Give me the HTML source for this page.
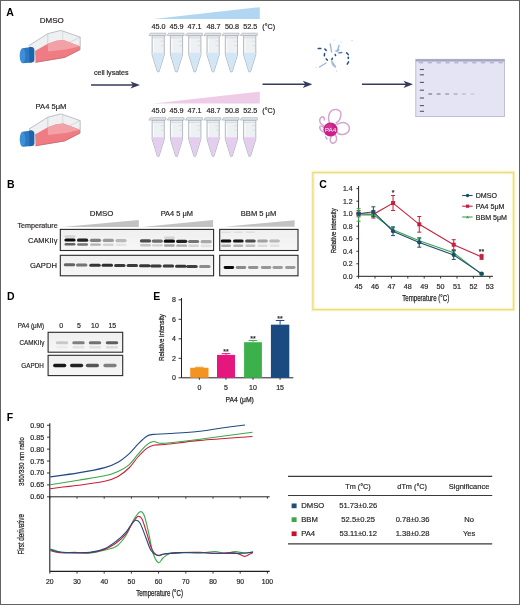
<!DOCTYPE html>
<html><head><meta charset="utf-8"><style>
html,body{margin:0;padding:0;background:#fff;}
body{width:520px;height:605px;overflow:hidden;position:relative;}
svg{position:absolute;left:0;top:0;font-family:"Liberation Sans", sans-serif;will-change:transform;}
.frame{position:absolute;left:0;top:0;width:518px;height:603px;border:1px solid #626266;}
</style></head><body>
<svg width="520" height="605" viewBox="0 0 520 605">
<g transform="translate(0,0)">
<polygon points="29.00,45.50 47.80,33.70 60.80,30.40 80.20,37.10 80.20,49.50 64.70,57.40 35.50,62.30 33.50,50.00" fill="#eef0f2" stroke="#a4a8ae" stroke-width="0.7"/>
<polygon points="35.00,51.00 47.80,43.80 56.40,40.80 63.40,39.90 80.00,46.30 80.00,49.60 64.70,57.40 35.50,62.30" fill="#ef7b83" stroke="none" stroke-width="1"/>
<polygon points="47.80,43.80 56.40,40.80 63.40,39.90 80.00,46.30 66.00,49.50 48.00,51.50" fill="#f3a1a6" stroke="none" stroke-width="1"/>
<line x1="47.8" y1="33.7" x2="47.8" y2="44.5" stroke="#b8bcc2" stroke-width="0.6"/>
<line x1="62.7" y1="31" x2="62.7" y2="40.5" stroke="#c4c8cc" stroke-width="0.5"/>
<line x1="80.2" y1="37.1" x2="66" y2="44" stroke="#b8bcc2" stroke-width="0.5"/>
<line x1="64.7" y1="57.4" x2="80.2" y2="49.5" stroke="#d45a66" stroke-width="0.7"/>
<line x1="35.5" y1="62.3" x2="64.7" y2="57.4" stroke="#d45a66" stroke-width="0.7"/>
<polygon points="31.50,47.00 35.00,49.50 35.50,62.30 33.00,62.50" fill="#dfe3e8" stroke="none" stroke-width="1"/>
<path d="M22.5,48.2 L31,46.9 Q34.2,47.2 34.2,50 L34.2,60 Q34.2,62.3 31.5,62.6 L23,63.3 Z" fill="#2a78c2"/>
<path d="M29,47.3 L31,46.9 Q34.2,47.2 34.2,50 L34.2,60 Q34.2,62.3 31.5,62.6 L29.5,62.8 Z" fill="#1f64aa"/>
<ellipse cx="22.6" cy="55.7" rx="2.9" ry="7.5" fill="#3d8fd6"/>
</g>
<g transform="translate(0,83.5)">
<polygon points="29.00,45.50 47.80,33.70 60.80,30.40 80.20,37.10 80.20,49.50 64.70,57.40 35.50,62.30 33.50,50.00" fill="#eef0f2" stroke="#a4a8ae" stroke-width="0.7"/>
<polygon points="35.00,51.00 47.80,43.80 56.40,40.80 63.40,39.90 80.00,46.30 80.00,49.60 64.70,57.40 35.50,62.30" fill="#ef7b83" stroke="none" stroke-width="1"/>
<polygon points="47.80,43.80 56.40,40.80 63.40,39.90 80.00,46.30 66.00,49.50 48.00,51.50" fill="#f3a1a6" stroke="none" stroke-width="1"/>
<line x1="47.8" y1="33.7" x2="47.8" y2="44.5" stroke="#b8bcc2" stroke-width="0.6"/>
<line x1="62.7" y1="31" x2="62.7" y2="40.5" stroke="#c4c8cc" stroke-width="0.5"/>
<line x1="80.2" y1="37.1" x2="66" y2="44" stroke="#b8bcc2" stroke-width="0.5"/>
<line x1="64.7" y1="57.4" x2="80.2" y2="49.5" stroke="#d45a66" stroke-width="0.7"/>
<line x1="35.5" y1="62.3" x2="64.7" y2="57.4" stroke="#d45a66" stroke-width="0.7"/>
<polygon points="31.50,47.00 35.00,49.50 35.50,62.30 33.00,62.50" fill="#dfe3e8" stroke="none" stroke-width="1"/>
<path d="M22.5,48.2 L31,46.9 Q34.2,47.2 34.2,50 L34.2,60 Q34.2,62.3 31.5,62.6 L23,63.3 Z" fill="#2a78c2"/>
<path d="M29,47.3 L31,46.9 Q34.2,47.2 34.2,50 L34.2,60 Q34.2,62.3 31.5,62.6 L29.5,62.8 Z" fill="#1f64aa"/>
<ellipse cx="22.6" cy="55.7" rx="2.9" ry="7.5" fill="#3d8fd6"/>
</g>
<text x="6.3" y="16.1" font-size="10.5" text-anchor="start" font-weight="bold" fill="#000">A</text>
<text x="39.8" y="23" font-size="8" text-anchor="start" fill="#231f20" stroke="#231f20" stroke-width="0.18">DMSO</text>
<text x="35.6" y="108.8" font-size="8" text-anchor="start" fill="#231f20" stroke="#231f20" stroke-width="0.18" textLength="30.8" lengthAdjust="spacingAndGlyphs">PA4 5μM</text>
<text x="93.9" y="74.8" font-size="7.1" text-anchor="start" fill="#231f20" stroke="#231f20" stroke-width="0.18">cell lysates</text>
<line x1="91" y1="85" x2="136" y2="85" stroke="#343a5c" stroke-width="1.6"/>
<path d="M140,85 L130.5,81.4 L133,85 L130.5,88.6 Z" fill="#343a5c"/>
<line x1="262.5" y1="84.3" x2="308.3" y2="84.3" stroke="#343a5c" stroke-width="1.6"/>
<path d="M312.3,84.3 L302.8,80.7 L305.3,84.3 L302.8,87.89999999999999 Z" fill="#343a5c"/>
<line x1="362" y1="84.3" x2="409" y2="84.3" stroke="#343a5c" stroke-width="1.6"/>
<path d="M413,84.3 L403.5,80.7 L406,84.3 L403.5,87.89999999999999 Z" fill="#343a5c"/>
<polygon points="153.30,19.00 259.80,19.00 259.80,7.20" fill="#b0d6f1" stroke="none" stroke-width="1"/>
<polygon points="153.30,103.50 259.80,103.50 259.80,91.70" fill="#eecbe6" stroke="none" stroke-width="1"/>
<text x="158.5" y="28.6" font-size="7.2" text-anchor="middle" fill="#231f20" stroke="#231f20" stroke-width="0.18">45.0</text>
<text x="176.6" y="28.6" font-size="7.2" text-anchor="middle" fill="#231f20" stroke="#231f20" stroke-width="0.18">45.9</text>
<text x="194.6" y="28.6" font-size="7.2" text-anchor="middle" fill="#231f20" stroke="#231f20" stroke-width="0.18">47.1</text>
<text x="213.6" y="28.6" font-size="7.2" text-anchor="middle" fill="#231f20" stroke="#231f20" stroke-width="0.18">48.7</text>
<text x="231.9" y="28.6" font-size="7.2" text-anchor="middle" fill="#231f20" stroke="#231f20" stroke-width="0.18">50.8</text>
<text x="250.3" y="28.6" font-size="7.2" text-anchor="middle" fill="#231f20" stroke="#231f20" stroke-width="0.18">52.5</text>
<text x="262.3" y="28.6" font-size="7.2" text-anchor="start" fill="#231f20" stroke="#231f20" stroke-width="0.18">(°C)</text>
<text x="158.5" y="113.1" font-size="7.2" text-anchor="middle" fill="#231f20" stroke="#231f20" stroke-width="0.18">45.0</text>
<text x="176.6" y="113.1" font-size="7.2" text-anchor="middle" fill="#231f20" stroke="#231f20" stroke-width="0.18">45.9</text>
<text x="194.6" y="113.1" font-size="7.2" text-anchor="middle" fill="#231f20" stroke="#231f20" stroke-width="0.18">47.1</text>
<text x="213.6" y="113.1" font-size="7.2" text-anchor="middle" fill="#231f20" stroke="#231f20" stroke-width="0.18">48.7</text>
<text x="231.9" y="113.1" font-size="7.2" text-anchor="middle" fill="#231f20" stroke="#231f20" stroke-width="0.18">50.8</text>
<text x="250.3" y="113.1" font-size="7.2" text-anchor="middle" fill="#231f20" stroke="#231f20" stroke-width="0.18">52.5</text>
<text x="262.3" y="113.1" font-size="7.2" text-anchor="start" fill="#231f20" stroke="#231f20" stroke-width="0.18">(°C)</text>
<path d="M152.1,35.6 L164.29999999999998,35.6 L164.29999999999998,54.7 L159.0,71.80000000000001 L157.39999999999998,71.80000000000001 L152.1,54.7 Z" fill="#eef1f4" stroke="#a2a9b1" stroke-width="0.8"/>
<path d="M152.5,52.800000000000004 L163.89999999999998,52.800000000000004 L163.89999999999998,54.800000000000004 L158.79999999999998,71.2 L157.6,71.2 L152.5,54.800000000000004 Z" fill="#d3e6f5"/>
<path d="M148.89999999999998,35.6 L150.39999999999998,33.2 L165.79999999999998,33.2 L165.79999999999998,35.6 Z" fill="#e2e5e9" stroke="#a0a6ae" stroke-width="0.6"/>
<line x1="152.1" y1="37.800000000000004" x2="164.29999999999998" y2="37.800000000000004" stroke="#c5cad0" stroke-width="0.6"/>
<line x1="160.39999999999998" y1="41.2" x2="163.6" y2="41.2" stroke="#c3c8ce" stroke-width="0.5"/>
<line x1="161.0" y1="45.7" x2="163.6" y2="45.7" stroke="#c3c8ce" stroke-width="0.5"/>
<line x1="153.6" y1="38.7" x2="153.6" y2="52.2" stroke="#fafbfc" stroke-width="1"/>
<path d="M152.1,120.10000000000001 L164.29999999999998,120.10000000000001 L164.29999999999998,139.2 L159.0,156.3 L157.39999999999998,156.3 L152.1,139.2 Z" fill="#eef1f4" stroke="#a2a9b1" stroke-width="0.8"/>
<path d="M152.5,137.3 L163.89999999999998,137.3 L163.89999999999998,139.3 L158.79999999999998,155.7 L157.6,155.7 L152.5,139.3 Z" fill="#e5cdee"/>
<path d="M148.89999999999998,120.10000000000001 L150.39999999999998,117.7 L165.79999999999998,117.7 L165.79999999999998,120.10000000000001 Z" fill="#e2e5e9" stroke="#a0a6ae" stroke-width="0.6"/>
<line x1="152.1" y1="122.3" x2="164.29999999999998" y2="122.3" stroke="#c5cad0" stroke-width="0.6"/>
<line x1="160.39999999999998" y1="125.7" x2="163.6" y2="125.7" stroke="#c3c8ce" stroke-width="0.5"/>
<line x1="161.0" y1="130.2" x2="163.6" y2="130.2" stroke="#c3c8ce" stroke-width="0.5"/>
<line x1="153.6" y1="123.2" x2="153.6" y2="136.7" stroke="#fafbfc" stroke-width="1"/>
<path d="M170.4,35.6 L182.6,35.6 L182.6,54.7 L177.3,71.80000000000001 L175.7,71.80000000000001 L170.4,54.7 Z" fill="#eef1f4" stroke="#a2a9b1" stroke-width="0.8"/>
<path d="M170.8,52.800000000000004 L182.2,52.800000000000004 L182.2,54.800000000000004 L177.1,71.2 L175.9,71.2 L170.8,54.800000000000004 Z" fill="#d3e6f5"/>
<path d="M167.2,35.6 L168.7,33.2 L184.1,33.2 L184.1,35.6 Z" fill="#e2e5e9" stroke="#a0a6ae" stroke-width="0.6"/>
<line x1="170.4" y1="37.800000000000004" x2="182.6" y2="37.800000000000004" stroke="#c5cad0" stroke-width="0.6"/>
<line x1="178.7" y1="41.2" x2="181.9" y2="41.2" stroke="#c3c8ce" stroke-width="0.5"/>
<line x1="179.3" y1="45.7" x2="181.9" y2="45.7" stroke="#c3c8ce" stroke-width="0.5"/>
<line x1="171.9" y1="38.7" x2="171.9" y2="52.2" stroke="#fafbfc" stroke-width="1"/>
<path d="M170.4,120.10000000000001 L182.6,120.10000000000001 L182.6,139.2 L177.3,156.3 L175.7,156.3 L170.4,139.2 Z" fill="#eef1f4" stroke="#a2a9b1" stroke-width="0.8"/>
<path d="M170.8,137.3 L182.2,137.3 L182.2,139.3 L177.1,155.7 L175.9,155.7 L170.8,139.3 Z" fill="#e5cdee"/>
<path d="M167.2,120.10000000000001 L168.7,117.7 L184.1,117.7 L184.1,120.10000000000001 Z" fill="#e2e5e9" stroke="#a0a6ae" stroke-width="0.6"/>
<line x1="170.4" y1="122.3" x2="182.6" y2="122.3" stroke="#c5cad0" stroke-width="0.6"/>
<line x1="178.7" y1="125.7" x2="181.9" y2="125.7" stroke="#c3c8ce" stroke-width="0.5"/>
<line x1="179.3" y1="130.2" x2="181.9" y2="130.2" stroke="#c3c8ce" stroke-width="0.5"/>
<line x1="171.9" y1="123.2" x2="171.9" y2="136.7" stroke="#fafbfc" stroke-width="1"/>
<path d="M188.70000000000002,35.6 L200.9,35.6 L200.9,54.7 L195.60000000000002,71.80000000000001 L194.0,71.80000000000001 L188.70000000000002,54.7 Z" fill="#eef1f4" stroke="#a2a9b1" stroke-width="0.8"/>
<path d="M189.10000000000002,52.800000000000004 L200.5,52.800000000000004 L200.5,54.800000000000004 L195.4,71.2 L194.20000000000002,71.2 L189.10000000000002,54.800000000000004 Z" fill="#d3e6f5"/>
<path d="M185.5,35.6 L187.0,33.2 L202.4,33.2 L202.4,35.6 Z" fill="#e2e5e9" stroke="#a0a6ae" stroke-width="0.6"/>
<line x1="188.70000000000002" y1="37.800000000000004" x2="200.9" y2="37.800000000000004" stroke="#c5cad0" stroke-width="0.6"/>
<line x1="197.0" y1="41.2" x2="200.20000000000002" y2="41.2" stroke="#c3c8ce" stroke-width="0.5"/>
<line x1="197.60000000000002" y1="45.7" x2="200.20000000000002" y2="45.7" stroke="#c3c8ce" stroke-width="0.5"/>
<line x1="190.20000000000002" y1="38.7" x2="190.20000000000002" y2="52.2" stroke="#fafbfc" stroke-width="1"/>
<path d="M188.70000000000002,120.10000000000001 L200.9,120.10000000000001 L200.9,139.2 L195.60000000000002,156.3 L194.0,156.3 L188.70000000000002,139.2 Z" fill="#eef1f4" stroke="#a2a9b1" stroke-width="0.8"/>
<path d="M189.10000000000002,137.3 L200.5,137.3 L200.5,139.3 L195.4,155.7 L194.20000000000002,155.7 L189.10000000000002,139.3 Z" fill="#e5cdee"/>
<path d="M185.5,120.10000000000001 L187.0,117.7 L202.4,117.7 L202.4,120.10000000000001 Z" fill="#e2e5e9" stroke="#a0a6ae" stroke-width="0.6"/>
<line x1="188.70000000000002" y1="122.3" x2="200.9" y2="122.3" stroke="#c5cad0" stroke-width="0.6"/>
<line x1="197.0" y1="125.7" x2="200.20000000000002" y2="125.7" stroke="#c3c8ce" stroke-width="0.5"/>
<line x1="197.60000000000002" y1="130.2" x2="200.20000000000002" y2="130.2" stroke="#c3c8ce" stroke-width="0.5"/>
<line x1="190.20000000000002" y1="123.2" x2="190.20000000000002" y2="136.7" stroke="#fafbfc" stroke-width="1"/>
<path d="M207.0,35.6 L219.2,35.6 L219.2,54.7 L213.9,71.80000000000001 L212.29999999999998,71.80000000000001 L207.0,54.7 Z" fill="#eef1f4" stroke="#a2a9b1" stroke-width="0.8"/>
<path d="M207.4,52.800000000000004 L218.79999999999998,52.800000000000004 L218.79999999999998,54.800000000000004 L213.7,71.2 L212.5,71.2 L207.4,54.800000000000004 Z" fill="#d3e6f5"/>
<path d="M203.79999999999998,35.6 L205.29999999999998,33.2 L220.7,33.2 L220.7,35.6 Z" fill="#e2e5e9" stroke="#a0a6ae" stroke-width="0.6"/>
<line x1="207.0" y1="37.800000000000004" x2="219.2" y2="37.800000000000004" stroke="#c5cad0" stroke-width="0.6"/>
<line x1="215.29999999999998" y1="41.2" x2="218.5" y2="41.2" stroke="#c3c8ce" stroke-width="0.5"/>
<line x1="215.9" y1="45.7" x2="218.5" y2="45.7" stroke="#c3c8ce" stroke-width="0.5"/>
<line x1="208.5" y1="38.7" x2="208.5" y2="52.2" stroke="#fafbfc" stroke-width="1"/>
<path d="M207.0,120.10000000000001 L219.2,120.10000000000001 L219.2,139.2 L213.9,156.3 L212.29999999999998,156.3 L207.0,139.2 Z" fill="#eef1f4" stroke="#a2a9b1" stroke-width="0.8"/>
<path d="M207.4,137.3 L218.79999999999998,137.3 L218.79999999999998,139.3 L213.7,155.7 L212.5,155.7 L207.4,139.3 Z" fill="#e5cdee"/>
<path d="M203.79999999999998,120.10000000000001 L205.29999999999998,117.7 L220.7,117.7 L220.7,120.10000000000001 Z" fill="#e2e5e9" stroke="#a0a6ae" stroke-width="0.6"/>
<line x1="207.0" y1="122.3" x2="219.2" y2="122.3" stroke="#c5cad0" stroke-width="0.6"/>
<line x1="215.29999999999998" y1="125.7" x2="218.5" y2="125.7" stroke="#c3c8ce" stroke-width="0.5"/>
<line x1="215.9" y1="130.2" x2="218.5" y2="130.2" stroke="#c3c8ce" stroke-width="0.5"/>
<line x1="208.5" y1="123.2" x2="208.5" y2="136.7" stroke="#fafbfc" stroke-width="1"/>
<path d="M225.3,35.6 L237.5,35.6 L237.5,54.7 L232.20000000000002,71.80000000000001 L230.6,71.80000000000001 L225.3,54.7 Z" fill="#eef1f4" stroke="#a2a9b1" stroke-width="0.8"/>
<path d="M225.70000000000002,52.800000000000004 L237.1,52.800000000000004 L237.1,54.800000000000004 L232.0,71.2 L230.8,71.2 L225.70000000000002,54.800000000000004 Z" fill="#d3e6f5"/>
<path d="M222.1,35.6 L223.6,33.2 L239.0,33.2 L239.0,35.6 Z" fill="#e2e5e9" stroke="#a0a6ae" stroke-width="0.6"/>
<line x1="225.3" y1="37.800000000000004" x2="237.5" y2="37.800000000000004" stroke="#c5cad0" stroke-width="0.6"/>
<line x1="233.6" y1="41.2" x2="236.8" y2="41.2" stroke="#c3c8ce" stroke-width="0.5"/>
<line x1="234.20000000000002" y1="45.7" x2="236.8" y2="45.7" stroke="#c3c8ce" stroke-width="0.5"/>
<line x1="226.8" y1="38.7" x2="226.8" y2="52.2" stroke="#fafbfc" stroke-width="1"/>
<path d="M225.3,120.10000000000001 L237.5,120.10000000000001 L237.5,139.2 L232.20000000000002,156.3 L230.6,156.3 L225.3,139.2 Z" fill="#eef1f4" stroke="#a2a9b1" stroke-width="0.8"/>
<path d="M225.70000000000002,137.3 L237.1,137.3 L237.1,139.3 L232.0,155.7 L230.8,155.7 L225.70000000000002,139.3 Z" fill="#e5cdee"/>
<path d="M222.1,120.10000000000001 L223.6,117.7 L239.0,117.7 L239.0,120.10000000000001 Z" fill="#e2e5e9" stroke="#a0a6ae" stroke-width="0.6"/>
<line x1="225.3" y1="122.3" x2="237.5" y2="122.3" stroke="#c5cad0" stroke-width="0.6"/>
<line x1="233.6" y1="125.7" x2="236.8" y2="125.7" stroke="#c3c8ce" stroke-width="0.5"/>
<line x1="234.20000000000002" y1="130.2" x2="236.8" y2="130.2" stroke="#c3c8ce" stroke-width="0.5"/>
<line x1="226.8" y1="123.2" x2="226.8" y2="136.7" stroke="#fafbfc" stroke-width="1"/>
<path d="M243.6,35.6 L255.79999999999998,35.6 L255.79999999999998,54.7 L250.5,71.80000000000001 L248.89999999999998,71.80000000000001 L243.6,54.7 Z" fill="#eef1f4" stroke="#a2a9b1" stroke-width="0.8"/>
<path d="M244.0,52.800000000000004 L255.39999999999998,52.800000000000004 L255.39999999999998,54.800000000000004 L250.29999999999998,71.2 L249.1,71.2 L244.0,54.800000000000004 Z" fill="#d3e6f5"/>
<path d="M240.39999999999998,35.6 L241.89999999999998,33.2 L257.3,33.2 L257.3,35.6 Z" fill="#e2e5e9" stroke="#a0a6ae" stroke-width="0.6"/>
<line x1="243.6" y1="37.800000000000004" x2="255.79999999999998" y2="37.800000000000004" stroke="#c5cad0" stroke-width="0.6"/>
<line x1="251.89999999999998" y1="41.2" x2="255.1" y2="41.2" stroke="#c3c8ce" stroke-width="0.5"/>
<line x1="252.5" y1="45.7" x2="255.1" y2="45.7" stroke="#c3c8ce" stroke-width="0.5"/>
<line x1="245.1" y1="38.7" x2="245.1" y2="52.2" stroke="#fafbfc" stroke-width="1"/>
<path d="M243.6,120.10000000000001 L255.79999999999998,120.10000000000001 L255.79999999999998,139.2 L250.5,156.3 L248.89999999999998,156.3 L243.6,139.2 Z" fill="#eef1f4" stroke="#a2a9b1" stroke-width="0.8"/>
<path d="M244.0,137.3 L255.39999999999998,137.3 L255.39999999999998,139.3 L250.29999999999998,155.7 L249.1,155.7 L244.0,139.3 Z" fill="#e5cdee"/>
<path d="M240.39999999999998,120.10000000000001 L241.89999999999998,117.7 L257.3,117.7 L257.3,120.10000000000001 Z" fill="#e2e5e9" stroke="#a0a6ae" stroke-width="0.6"/>
<line x1="243.6" y1="122.3" x2="255.79999999999998" y2="122.3" stroke="#c5cad0" stroke-width="0.6"/>
<line x1="251.89999999999998" y1="125.7" x2="255.1" y2="125.7" stroke="#c3c8ce" stroke-width="0.5"/>
<line x1="252.5" y1="130.2" x2="255.1" y2="130.2" stroke="#c3c8ce" stroke-width="0.5"/>
<line x1="245.1" y1="123.2" x2="245.1" y2="136.7" stroke="#fafbfc" stroke-width="1"/>
<line x1="318.2" y1="48.5" x2="320.8" y2="48.6" stroke="#2b4d80" stroke-width="1.5" stroke-linecap="round"/>
<line x1="324.8" y1="49" x2="326.2" y2="50.4" stroke="#2b4d80" stroke-width="1.5" stroke-linecap="round"/>
<line x1="324.6" y1="53.6" x2="324.3" y2="55.8" stroke="#2b4d80" stroke-width="1.5" stroke-linecap="round"/>
<line x1="326.2" y1="58.9" x2="327.3" y2="60.1" stroke="#2b4d80" stroke-width="1.5" stroke-linecap="round"/>
<line x1="332.4" y1="58.2" x2="331.8" y2="59.6" stroke="#2b4d80" stroke-width="1.5" stroke-linecap="round"/>
<line x1="335.2" y1="54.4" x2="335.6" y2="55.6" stroke="#2b4d80" stroke-width="1.5" stroke-linecap="round"/>
<line x1="346.6" y1="52.8" x2="348.2" y2="54.6" stroke="#2b4d80" stroke-width="1.5" stroke-linecap="round"/>
<line x1="348.3" y1="57.2" x2="348.3" y2="58.6" stroke="#2b4d80" stroke-width="1.5" stroke-linecap="round"/>
<line x1="348.6" y1="61.8" x2="347.2" y2="64.2" stroke="#2b4d80" stroke-width="1.5" stroke-linecap="round"/>
<line x1="330.2" y1="44" x2="331.6" y2="52" stroke="#9ab6d8" stroke-width="1.4" stroke-linecap="round"/>
<line x1="339" y1="45.5" x2="337.3" y2="51.5" stroke="#9ab6d8" stroke-width="1.4" stroke-linecap="round"/>
<line x1="319.5" y1="67" x2="326" y2="63" stroke="#9ab6d8" stroke-width="1.4" stroke-linecap="round"/>
<line x1="331.8" y1="61.5" x2="335.5" y2="67" stroke="#9ab6d8" stroke-width="1.4" stroke-linecap="round"/>
<line x1="336" y1="51" x2="339" y2="50" stroke="#9ab6d8" stroke-width="1.4" stroke-linecap="round"/>
<line x1="338.8" y1="52.9" x2="341.8" y2="52.5" stroke="#4f7fb6" stroke-width="1.4" stroke-linecap="round"/>
<path d="M331.8,62.5 Q332.5,66 335,66.8" fill="none" stroke="#a9bccf" stroke-width="1.2"/>
<circle cx="316" cy="67.5" r="0.6" fill="#b7c8dc"/>
<circle cx="336.5" cy="71" r="0.6" fill="#b7c8dc"/>
<circle cx="341" cy="42" r="0.6" fill="#b7c8dc"/>
<circle cx="352" cy="40.5" r="0.6" fill="#b7c8dc"/>
<circle cx="334" cy="40" r="0.6" fill="#b7c8dc"/>
<path d="M324.00,126.00 C323.40,125.50 321.10,124.08 320.40,123.00 C319.70,121.92 319.58,120.50 319.80,119.50 C320.02,118.50 321.00,117.32 321.70,117.00 C322.40,116.68 323.55,117.10 324.00,117.60 C324.45,118.10 324.33,119.60 324.40,120.00" fill="none" stroke="#d3a6cd" stroke-width="1.5" stroke-linecap="round"/>
<path d="M323.60,127.00 C323.05,126.83 320.83,125.58 320.30,126.00 C319.77,126.42 319.95,128.50 320.40,129.50 C320.85,130.50 322.57,131.58 323.00,132.00" fill="none" stroke="#d3a6cd" stroke-width="1.5" stroke-linecap="round"/>
<path d="M329.40,123.00 C329.27,122.22 328.60,119.85 328.60,118.30 C328.60,116.75 328.75,115.05 329.40,113.70 C330.05,112.35 331.35,110.90 332.50,110.20 C333.65,109.50 335.02,109.30 336.30,109.50 C337.58,109.70 339.43,110.45 340.20,111.40 C340.97,112.35 341.03,113.80 340.90,115.20 C340.77,116.60 340.17,118.52 339.40,119.80 C338.63,121.08 336.82,122.38 336.30,122.90" fill="none" stroke="#d3a6cd" stroke-width="1.5" stroke-linecap="round"/>
<path d="M337.00,124.30 C338.03,124.00 341.40,122.47 343.20,122.50 C345.00,122.53 346.77,123.53 347.80,124.50 C348.83,125.47 349.40,127.02 349.40,128.30 C349.40,129.58 348.83,131.17 347.80,132.20 C346.77,133.23 344.73,134.25 343.20,134.50 C341.67,134.75 339.70,134.22 338.60,133.70 C337.50,133.18 336.93,131.78 336.60,131.40" fill="none" stroke="#d3a6cd" stroke-width="1.5" stroke-linecap="round"/>
<path d="M331.70,136.00 C331.45,136.50 330.32,137.97 330.20,139.00 C330.08,140.03 330.37,141.53 331.00,142.20 C331.63,142.87 333.12,143.27 334.00,143.00 C334.88,142.73 335.92,141.63 336.30,140.60 C336.68,139.57 336.55,137.77 336.30,136.80 C336.05,135.83 335.05,135.13 334.80,134.80" fill="none" stroke="#d3a6cd" stroke-width="1.5" stroke-linecap="round"/>
<path d="M325.50,136.80 C325.75,137.17 326.75,138.63 327.00,139.00" fill="none" stroke="#d3a6cd" stroke-width="1.5" stroke-linecap="round"/>
<circle cx="330.5" cy="129.5" r="7.1" fill="#c92189"/>
<circle cx="329" cy="127.5" r="3.5" fill="#d8489e" opacity="0.5"/>
<text x="330.6" y="131.8" font-size="6.1" text-anchor="middle" fill="#fff" textLength="11.6" lengthAdjust="spacingAndGlyphs">PA4</text>
<rect x="415.8" y="59.3" width="88.59999999999997" height="57.3" fill="#e4e4f4" stroke="#b2b2cf" stroke-width="0.8"/>
<rect x="415.8" y="59.3" width="88.59999999999997" height="2.2" fill="#a3a3c2"/>
<path d="M418.40,61.5 L423.60,61.5 L422.80,63.599999999999994 L419.20,63.599999999999994 Z" fill="#b9b9d4"/>
<path d="M427.26,61.5 L432.46,61.5 L431.66,63.599999999999994 L428.06,63.599999999999994 Z" fill="#b9b9d4"/>
<path d="M436.12,61.5 L441.32,61.5 L440.52,63.599999999999994 L436.92,63.599999999999994 Z" fill="#b9b9d4"/>
<path d="M444.98,61.5 L450.18,61.5 L449.38,63.599999999999994 L445.78,63.599999999999994 Z" fill="#b9b9d4"/>
<path d="M453.84,61.5 L459.04,61.5 L458.24,63.599999999999994 L454.64,63.599999999999994 Z" fill="#b9b9d4"/>
<path d="M462.70,61.5 L467.90,61.5 L467.10,63.599999999999994 L463.50,63.599999999999994 Z" fill="#b9b9d4"/>
<path d="M471.56,61.5 L476.76,61.5 L475.96,63.599999999999994 L472.36,63.599999999999994 Z" fill="#b9b9d4"/>
<path d="M480.42,61.5 L485.62,61.5 L484.82,63.599999999999994 L481.22,63.599999999999994 Z" fill="#b9b9d4"/>
<path d="M489.28,61.5 L494.48,61.5 L493.68,63.599999999999994 L490.08,63.599999999999994 Z" fill="#b9b9d4"/>
<path d="M498.14,61.5 L503.34,61.5 L502.54,63.599999999999994 L498.94,63.599999999999994 Z" fill="#b9b9d4"/>
<line x1="419.8" y1="69.5" x2="424" y2="69.5" stroke="#55557a" stroke-width="1.1"/>
<line x1="419.8" y1="74.8" x2="424" y2="74.8" stroke="#55557a" stroke-width="1.1"/>
<line x1="419.8" y1="82.4" x2="424" y2="82.4" stroke="#55557a" stroke-width="1.1"/>
<line x1="419.8" y1="90.2" x2="424" y2="90.2" stroke="#55557a" stroke-width="1.1"/>
<line x1="419.8" y1="98" x2="424" y2="98" stroke="#55557a" stroke-width="1.1"/>
<line x1="419.8" y1="105.6" x2="424" y2="105.6" stroke="#55557a" stroke-width="1.1"/>
<line x1="419.8" y1="111.3" x2="424" y2="111.3" stroke="#55557a" stroke-width="1.1"/>
<line x1="428.3" y1="94" x2="432.1" y2="94" stroke="#6a6a8c" stroke-width="1.1"/>
<line x1="436.7" y1="94" x2="440.5" y2="94" stroke="#76769a" stroke-width="1.1"/>
<line x1="445.2" y1="94" x2="449.0" y2="94" stroke="#8484a6" stroke-width="1.1"/>
<line x1="453.7" y1="94" x2="457.5" y2="94" stroke="#9a9aba" stroke-width="1.1"/>
<line x1="462" y1="94" x2="465.8" y2="94" stroke="#b0b0cc" stroke-width="1.1"/>
<line x1="470.6" y1="94" x2="474.40000000000003" y2="94" stroke="#c4c4da" stroke-width="1.1"/>
<text x="7" y="187.5" font-size="10.5" text-anchor="start" font-weight="bold" fill="#000">B</text>
<text x="89.8" y="215.9" font-size="7.9" text-anchor="start" fill="#231f20" stroke="#231f20" stroke-width="0.18">DMSO</text>
<text x="160.7" y="216.4" font-size="7.6" text-anchor="start" fill="#231f20" stroke="#231f20" stroke-width="0.18" textLength="32.3" lengthAdjust="spacingAndGlyphs">PA4 5 μM</text>
<text x="240.8" y="215.8" font-size="7.6" text-anchor="start" fill="#231f20" stroke="#231f20" stroke-width="0.18" textLength="35.5" lengthAdjust="spacingAndGlyphs">BBM 5 μM</text>
<text x="17.4" y="228" font-size="7.9" text-anchor="start" fill="#231f20" stroke="#231f20" stroke-width="0.18" textLength="40.3" lengthAdjust="spacingAndGlyphs">Temperature</text>
<text x="28" y="242.9" font-size="7.8" text-anchor="start" fill="#231f20" stroke="#231f20" stroke-width="0.18" textLength="29.4" lengthAdjust="spacingAndGlyphs">CAMKIIγ</text>
<text x="29.9" y="267.9" font-size="7.8" text-anchor="start" fill="#231f20" stroke="#231f20" stroke-width="0.18" textLength="27" lengthAdjust="spacingAndGlyphs">GAPDH</text>
<polygon points="62.50,227.00 138.80,227.00 138.80,220.10" fill="#c2c2c2" stroke="none" stroke-width="1"/>
<polygon points="142.00,227.00 213.10,227.00 213.10,220.00" fill="#c2c2c2" stroke="none" stroke-width="1"/>
<polygon points="224.40,226.80 294.60,226.80 294.60,220.20" fill="#c2c2c2" stroke="none" stroke-width="1"/>
<defs><filter id="bl" x="-50%" y="-100%" width="200%" height="300%"><feGaussianBlur stdDeviation="0.7"/></filter><linearGradient id="bg" x1="0" y1="0" x2="0" y2="1"><stop offset="0" stop-color="#efefef"/><stop offset="1" stop-color="#f7f7f7"/></linearGradient></defs>
<rect x="60.3" y="229.4" width="153.3" height="21.099999999999994" fill="url(#bg)" stroke="#2a2a2a" stroke-width="1.1"/>
<rect x="60.3" y="255.3" width="153.3" height="20.5" fill="url(#bg)" stroke="#2a2a2a" stroke-width="1.1"/>
<rect x="219.7" y="229.4" width="78.30000000000001" height="21.099999999999994" fill="url(#bg)" stroke="#2a2a2a" stroke-width="1.1"/>
<rect x="219.7" y="255.3" width="78.30000000000001" height="20.5" fill="url(#bg)" stroke="#2a2a2a" stroke-width="1.1"/>
<rect x="64.40" y="238.40" width="11.20" height="3.20" rx="1.60" fill="#0a0a0a" opacity="1.00" filter="url(#bl)"/>
<rect x="64.60" y="243.10" width="10.80" height="2.40" rx="1.20" fill="#0a0a0a" opacity="0.62" filter="url(#bl)"/>
<rect x="64.50" y="235.20" width="11.00" height="2.60" rx="1.30" fill="#0a0a0a" opacity="0.12" filter="url(#bl)"/>
<rect x="77.00" y="238.55" width="11.20" height="3.20" rx="1.60" fill="#0a0a0a" opacity="0.90" filter="url(#bl)"/>
<rect x="77.20" y="243.25" width="10.80" height="2.40" rx="1.20" fill="#0a0a0a" opacity="0.55" filter="url(#bl)"/>
<rect x="89.90" y="238.71" width="11.20" height="3.20" rx="1.60" fill="#0a0a0a" opacity="0.50" filter="url(#bl)"/>
<rect x="90.10" y="243.41" width="10.80" height="2.40" rx="1.20" fill="#0a0a0a" opacity="0.28" filter="url(#bl)"/>
<rect x="102.70" y="238.86" width="11.20" height="3.20" rx="1.60" fill="#0a0a0a" opacity="0.38" filter="url(#bl)"/>
<rect x="102.90" y="243.56" width="10.80" height="2.40" rx="1.20" fill="#0a0a0a" opacity="0.15" filter="url(#bl)"/>
<rect x="115.40" y="239.01" width="11.20" height="3.20" rx="1.60" fill="#0a0a0a" opacity="0.25" filter="url(#bl)"/>
<rect x="115.60" y="243.71" width="10.80" height="2.40" rx="1.20" fill="#0a0a0a" opacity="0.07" filter="url(#bl)"/>
<rect x="139.90" y="239.31" width="11.20" height="3.20" rx="1.60" fill="#0a0a0a" opacity="0.72" filter="url(#bl)"/>
<rect x="140.10" y="244.01" width="10.80" height="2.40" rx="1.20" fill="#0a0a0a" opacity="0.20" filter="url(#bl)"/>
<rect x="151.70" y="239.45" width="11.20" height="3.20" rx="1.60" fill="#0a0a0a" opacity="0.58" filter="url(#bl)"/>
<rect x="151.90" y="244.15" width="10.80" height="2.40" rx="1.20" fill="#0a0a0a" opacity="0.15" filter="url(#bl)"/>
<rect x="163.80" y="239.59" width="11.20" height="3.20" rx="1.60" fill="#0a0a0a" opacity="1.00" filter="url(#bl)"/>
<rect x="164.00" y="244.29" width="10.80" height="2.40" rx="1.20" fill="#0a0a0a" opacity="0.35" filter="url(#bl)"/>
<rect x="163.90" y="236.39" width="11.00" height="2.60" rx="1.30" fill="#0a0a0a" opacity="0.12" filter="url(#bl)"/>
<rect x="176.10" y="239.74" width="11.20" height="3.20" rx="1.60" fill="#0a0a0a" opacity="0.90" filter="url(#bl)"/>
<rect x="176.30" y="244.44" width="10.80" height="2.40" rx="1.20" fill="#0a0a0a" opacity="0.30" filter="url(#bl)"/>
<rect x="188.00" y="239.88" width="11.20" height="3.20" rx="1.60" fill="#0a0a0a" opacity="0.55" filter="url(#bl)"/>
<rect x="188.20" y="244.58" width="10.80" height="2.40" rx="1.20" fill="#0a0a0a" opacity="0.14" filter="url(#bl)"/>
<rect x="200.60" y="240.03" width="11.20" height="3.20" rx="1.60" fill="#0a0a0a" opacity="0.32" filter="url(#bl)"/>
<rect x="200.80" y="244.73" width="10.80" height="2.40" rx="1.20" fill="#0a0a0a" opacity="0.08" filter="url(#bl)"/>
<rect x="63.80" y="263.30" width="11.40" height="3.00" rx="1.50" fill="#0a0a0a" opacity="0.62" filter="url(#bl)"/>
<rect x="76.00" y="263.46" width="11.40" height="3.00" rx="1.50" fill="#0a0a0a" opacity="0.55" filter="url(#bl)"/>
<rect x="89.30" y="263.63" width="11.40" height="3.00" rx="1.50" fill="#0a0a0a" opacity="0.82" filter="url(#bl)"/>
<rect x="101.60" y="263.79" width="11.40" height="3.00" rx="1.50" fill="#0a0a0a" opacity="0.85" filter="url(#bl)"/>
<rect x="114.10" y="263.95" width="11.40" height="3.00" rx="1.50" fill="#0a0a0a" opacity="0.80" filter="url(#bl)"/>
<rect x="126.60" y="264.12" width="11.40" height="3.00" rx="1.50" fill="#0a0a0a" opacity="0.80" filter="url(#bl)"/>
<rect x="139.00" y="264.28" width="11.40" height="3.00" rx="1.50" fill="#0a0a0a" opacity="0.82" filter="url(#bl)"/>
<rect x="150.20" y="264.42" width="11.40" height="3.00" rx="1.50" fill="#0a0a0a" opacity="0.80" filter="url(#bl)"/>
<rect x="162.70" y="264.59" width="11.40" height="3.00" rx="1.50" fill="#0a0a0a" opacity="0.80" filter="url(#bl)"/>
<rect x="175.10" y="264.75" width="11.40" height="3.00" rx="1.50" fill="#0a0a0a" opacity="0.82" filter="url(#bl)"/>
<rect x="186.30" y="264.89" width="11.40" height="3.00" rx="1.50" fill="#0a0a0a" opacity="0.78" filter="url(#bl)"/>
<rect x="199.10" y="265.06" width="11.40" height="3.00" rx="1.50" fill="#0a0a0a" opacity="0.45" filter="url(#bl)"/>
<rect x="220.70" y="239.50" width="10.60" height="3.00" rx="1.50" fill="#0a0a0a" opacity="1.00" filter="url(#bl)"/>
<rect x="221.00" y="244.50" width="10.00" height="2.40" rx="1.20" fill="#0a0a0a" opacity="0.30" filter="url(#bl)"/>
<rect x="221.50" y="231.50" width="9.00" height="1.40" rx="0.70" fill="#0a0a0a" opacity="0.07" filter="url(#bl)"/>
<rect x="233.00" y="239.50" width="10.60" height="3.00" rx="1.50" fill="#0a0a0a" opacity="0.95" filter="url(#bl)"/>
<rect x="233.30" y="244.50" width="10.00" height="2.40" rx="1.20" fill="#0a0a0a" opacity="0.28" filter="url(#bl)"/>
<rect x="233.80" y="231.50" width="9.00" height="1.40" rx="0.70" fill="#0a0a0a" opacity="0.07" filter="url(#bl)"/>
<rect x="245.10" y="239.50" width="10.60" height="3.00" rx="1.50" fill="#0a0a0a" opacity="0.72" filter="url(#bl)"/>
<rect x="245.40" y="244.50" width="10.00" height="2.40" rx="1.20" fill="#0a0a0a" opacity="0.22" filter="url(#bl)"/>
<rect x="245.90" y="231.50" width="9.00" height="1.40" rx="0.70" fill="#0a0a0a" opacity="0.07" filter="url(#bl)"/>
<rect x="257.20" y="239.50" width="10.60" height="3.00" rx="1.50" fill="#0a0a0a" opacity="0.35" filter="url(#bl)"/>
<rect x="257.50" y="244.50" width="10.00" height="2.40" rx="1.20" fill="#0a0a0a" opacity="0.10" filter="url(#bl)"/>
<rect x="269.20" y="239.50" width="10.60" height="3.00" rx="1.50" fill="#0a0a0a" opacity="0.25" filter="url(#bl)"/>
<rect x="269.50" y="244.50" width="10.00" height="2.40" rx="1.20" fill="#0a0a0a" opacity="0.08" filter="url(#bl)"/>
<rect x="223.70" y="266.10" width="10.40" height="2.80" rx="1.40" fill="#0a0a0a" opacity="1.00" filter="url(#bl)"/>
<rect x="235.80" y="266.10" width="10.40" height="2.80" rx="1.40" fill="#0a0a0a" opacity="0.45" filter="url(#bl)"/>
<rect x="248.00" y="266.10" width="10.40" height="2.80" rx="1.40" fill="#0a0a0a" opacity="0.42" filter="url(#bl)"/>
<rect x="260.90" y="266.10" width="10.40" height="2.80" rx="1.40" fill="#0a0a0a" opacity="0.40" filter="url(#bl)"/>
<rect x="272.50" y="266.10" width="10.40" height="2.80" rx="1.40" fill="#0a0a0a" opacity="0.38" filter="url(#bl)"/>
<rect x="285.10" y="266.10" width="10.40" height="2.80" rx="1.40" fill="#0a0a0a" opacity="0.38" filter="url(#bl)"/>
<rect x="312.9" y="172.5" width="200.7" height="137.1" fill="none" stroke="#fcf5c6" stroke-width="3.4"/>
<rect x="312.9" y="172.5" width="200.7" height="137.1" fill="none" stroke="#eadb8a" stroke-width="1.3"/>
<text x="319.3" y="188" font-size="10.5" text-anchor="start" font-weight="bold" fill="#000">C</text>
<line x1="358.6" y1="186" x2="358.6" y2="276.3" stroke="#231f20" stroke-width="1"/>
<line x1="358.6" y1="276.3" x2="493" y2="276.3" stroke="#231f20" stroke-width="1"/>
<line x1="356.4" y1="276.3" x2="358.6" y2="276.3" stroke="#231f20" stroke-width="0.9"/>
<text x="352.6" y="278.7" font-size="6.9" text-anchor="end" fill="#231f20" stroke="#231f20" stroke-width="0.18">0.0</text>
<line x1="356.4" y1="263.78000000000003" x2="358.6" y2="263.78000000000003" stroke="#231f20" stroke-width="0.9"/>
<text x="352.6" y="266.18" font-size="6.9" text-anchor="end" fill="#231f20" stroke="#231f20" stroke-width="0.18">0.2</text>
<line x1="356.4" y1="251.26000000000002" x2="358.6" y2="251.26000000000002" stroke="#231f20" stroke-width="0.9"/>
<text x="352.6" y="253.66000000000003" font-size="6.9" text-anchor="end" fill="#231f20" stroke="#231f20" stroke-width="0.18">0.4</text>
<line x1="356.4" y1="238.74" x2="358.6" y2="238.74" stroke="#231f20" stroke-width="0.9"/>
<text x="352.6" y="241.14000000000001" font-size="6.9" text-anchor="end" fill="#231f20" stroke="#231f20" stroke-width="0.18">0.6</text>
<line x1="356.4" y1="226.22" x2="358.6" y2="226.22" stroke="#231f20" stroke-width="0.9"/>
<text x="352.6" y="228.62" font-size="6.9" text-anchor="end" fill="#231f20" stroke="#231f20" stroke-width="0.18">0.8</text>
<line x1="356.4" y1="213.70000000000002" x2="358.6" y2="213.70000000000002" stroke="#231f20" stroke-width="0.9"/>
<text x="352.6" y="216.10000000000002" font-size="6.9" text-anchor="end" fill="#231f20" stroke="#231f20" stroke-width="0.18">1.0</text>
<line x1="356.4" y1="201.18" x2="358.6" y2="201.18" stroke="#231f20" stroke-width="0.9"/>
<text x="352.6" y="203.58" font-size="6.9" text-anchor="end" fill="#231f20" stroke="#231f20" stroke-width="0.18">1.2</text>
<line x1="356.4" y1="188.66" x2="358.6" y2="188.66" stroke="#231f20" stroke-width="0.9"/>
<text x="352.6" y="191.06" font-size="6.9" text-anchor="end" fill="#231f20" stroke="#231f20" stroke-width="0.18">1.4</text>
<line x1="358.6" y1="276.3" x2="358.6" y2="278.5" stroke="#231f20" stroke-width="0.9"/>
<text x="358.6" y="289.2" font-size="7.2" text-anchor="middle" fill="#231f20" stroke="#231f20" stroke-width="0.18">45</text>
<line x1="375.0" y1="276.3" x2="375.0" y2="278.5" stroke="#231f20" stroke-width="0.9"/>
<text x="375.0" y="289.2" font-size="7.2" text-anchor="middle" fill="#231f20" stroke="#231f20" stroke-width="0.18">46</text>
<line x1="391.40000000000003" y1="276.3" x2="391.40000000000003" y2="278.5" stroke="#231f20" stroke-width="0.9"/>
<text x="391.40000000000003" y="289.2" font-size="7.2" text-anchor="middle" fill="#231f20" stroke="#231f20" stroke-width="0.18">47</text>
<line x1="407.8" y1="276.3" x2="407.8" y2="278.5" stroke="#231f20" stroke-width="0.9"/>
<text x="407.8" y="289.2" font-size="7.2" text-anchor="middle" fill="#231f20" stroke="#231f20" stroke-width="0.18">48</text>
<line x1="424.20000000000005" y1="276.3" x2="424.20000000000005" y2="278.5" stroke="#231f20" stroke-width="0.9"/>
<text x="424.20000000000005" y="289.2" font-size="7.2" text-anchor="middle" fill="#231f20" stroke="#231f20" stroke-width="0.18">49</text>
<line x1="440.6" y1="276.3" x2="440.6" y2="278.5" stroke="#231f20" stroke-width="0.9"/>
<text x="440.6" y="289.2" font-size="7.2" text-anchor="middle" fill="#231f20" stroke="#231f20" stroke-width="0.18">50</text>
<line x1="457.0" y1="276.3" x2="457.0" y2="278.5" stroke="#231f20" stroke-width="0.9"/>
<text x="457.0" y="289.2" font-size="7.2" text-anchor="middle" fill="#231f20" stroke="#231f20" stroke-width="0.18">51</text>
<line x1="473.4" y1="276.3" x2="473.4" y2="278.5" stroke="#231f20" stroke-width="0.9"/>
<text x="473.4" y="289.2" font-size="7.2" text-anchor="middle" fill="#231f20" stroke="#231f20" stroke-width="0.18">52</text>
<line x1="489.8" y1="276.3" x2="489.8" y2="278.5" stroke="#231f20" stroke-width="0.9"/>
<text x="489.8" y="289.2" font-size="7.2" text-anchor="middle" fill="#231f20" stroke="#231f20" stroke-width="0.18">53</text>
<text x="402.2" y="301.4" font-size="8.4" text-anchor="start" fill="#231f20" textLength="47" lengthAdjust="spacingAndGlyphs" stroke="#231f20" stroke-width="0.25">Temperature (°C)</text>
<text transform="translate(336.4,230.8) rotate(-90)" x="0" y="0" font-size="7.3" text-anchor="middle" fill="#231f20" stroke="#231f20" stroke-width="0.25" textLength="45" lengthAdjust="spacingAndGlyphs">Relative intensity</text>
<polyline points="358.60,213.70 373.36,214.33 393.04,203.06 419.28,224.34 453.72,244.69 481.60,256.89" fill="none" stroke="#c4213e" stroke-width="1.1"/>
<line x1="358.6" y1="210.57000000000002" x2="358.6" y2="216.83" stroke="#c4213e" stroke-width="1"/>
<line x1="356.6" y1="210.57000000000002" x2="360.6" y2="210.57000000000002" stroke="#c4213e" stroke-width="1"/>
<line x1="356.6" y1="216.83" x2="360.6" y2="216.83" stroke="#c4213e" stroke-width="1"/>
<rect x="356.6" y="211.70000000000002" width="4" height="4" fill="#c4213e"/>
<line x1="373.36" y1="210.57000000000002" x2="373.36" y2="218.08200000000002" stroke="#c4213e" stroke-width="1"/>
<line x1="371.36" y1="210.57000000000002" x2="375.36" y2="210.57000000000002" stroke="#c4213e" stroke-width="1"/>
<line x1="371.36" y1="218.08200000000002" x2="375.36" y2="218.08200000000002" stroke="#c4213e" stroke-width="1"/>
<rect x="371.36" y="212.32600000000002" width="4" height="4" fill="#c4213e"/>
<line x1="393.04" y1="195.54600000000002" x2="393.04" y2="210.57000000000002" stroke="#c4213e" stroke-width="1"/>
<line x1="391.04" y1="195.54600000000002" x2="395.04" y2="195.54600000000002" stroke="#c4213e" stroke-width="1"/>
<line x1="391.04" y1="210.57000000000002" x2="395.04" y2="210.57000000000002" stroke="#c4213e" stroke-width="1"/>
<rect x="391.04" y="201.05800000000002" width="4" height="4" fill="#c4213e"/>
<line x1="419.2800000000001" y1="216.51700000000002" x2="419.2800000000001" y2="232.167" stroke="#c4213e" stroke-width="1"/>
<line x1="417.2800000000001" y1="216.51700000000002" x2="421.2800000000001" y2="216.51700000000002" stroke="#c4213e" stroke-width="1"/>
<line x1="417.2800000000001" y1="232.167" x2="421.2800000000001" y2="232.167" stroke="#c4213e" stroke-width="1"/>
<rect x="417.2800000000001" y="222.342" width="4" height="4" fill="#c4213e"/>
<line x1="453.71999999999997" y1="239.679" x2="453.71999999999997" y2="249.69500000000002" stroke="#c4213e" stroke-width="1"/>
<line x1="451.71999999999997" y1="239.679" x2="455.71999999999997" y2="239.679" stroke="#c4213e" stroke-width="1"/>
<line x1="451.71999999999997" y1="249.69500000000002" x2="455.71999999999997" y2="249.69500000000002" stroke="#c4213e" stroke-width="1"/>
<rect x="451.71999999999997" y="242.687" width="4" height="4" fill="#c4213e"/>
<line x1="481.6" y1="254.39000000000001" x2="481.6" y2="259.398" stroke="#c4213e" stroke-width="1"/>
<line x1="479.6" y1="254.39000000000001" x2="483.6" y2="254.39000000000001" stroke="#c4213e" stroke-width="1"/>
<line x1="479.6" y1="259.398" x2="483.6" y2="259.398" stroke="#c4213e" stroke-width="1"/>
<rect x="479.6" y="254.894" width="4" height="4" fill="#c4213e"/>
<polyline points="358.60,214.95 373.36,214.64 393.04,229.66 419.28,240.81 453.72,252.83 481.60,274.42" fill="none" stroke="#3aa64c" stroke-width="1.1"/>
<line x1="358.6" y1="208.692" x2="358.6" y2="221.212" stroke="#3aa64c" stroke-width="1"/>
<line x1="356.6" y1="208.692" x2="360.6" y2="208.692" stroke="#3aa64c" stroke-width="1"/>
<line x1="356.6" y1="221.212" x2="360.6" y2="221.212" stroke="#3aa64c" stroke-width="1"/>
<path d="M356.6,216.452 L360.6,216.452 L358.6,212.952 Z" fill="#3aa64c"/>
<line x1="373.36" y1="212.76100000000002" x2="373.36" y2="216.517" stroke="#3aa64c" stroke-width="1"/>
<line x1="371.36" y1="212.76100000000002" x2="375.36" y2="212.76100000000002" stroke="#3aa64c" stroke-width="1"/>
<line x1="371.36" y1="216.517" x2="375.36" y2="216.517" stroke="#3aa64c" stroke-width="1"/>
<path d="M371.36,216.139 L375.36,216.139 L373.36,212.639 Z" fill="#3aa64c"/>
<line x1="393.04" y1="227.78500000000003" x2="393.04" y2="231.541" stroke="#3aa64c" stroke-width="1"/>
<line x1="391.04" y1="227.78500000000003" x2="395.04" y2="227.78500000000003" stroke="#3aa64c" stroke-width="1"/>
<line x1="391.04" y1="231.541" x2="395.04" y2="231.541" stroke="#3aa64c" stroke-width="1"/>
<path d="M391.04,231.163 L395.04,231.163 L393.04,227.663 Z" fill="#3aa64c"/>
<line x1="419.2800000000001" y1="238.92780000000002" x2="419.2800000000001" y2="242.6838" stroke="#3aa64c" stroke-width="1"/>
<line x1="417.2800000000001" y1="238.92780000000002" x2="421.2800000000001" y2="238.92780000000002" stroke="#3aa64c" stroke-width="1"/>
<line x1="417.2800000000001" y1="242.6838" x2="421.2800000000001" y2="242.6838" stroke="#3aa64c" stroke-width="1"/>
<path d="M417.2800000000001,242.3058 L421.2800000000001,242.3058 L419.2800000000001,238.8058 Z" fill="#3aa64c"/>
<line x1="453.71999999999997" y1="250.94700000000003" x2="453.71999999999997" y2="254.703" stroke="#3aa64c" stroke-width="1"/>
<line x1="451.71999999999997" y1="250.94700000000003" x2="455.71999999999997" y2="250.94700000000003" stroke="#3aa64c" stroke-width="1"/>
<line x1="451.71999999999997" y1="254.703" x2="455.71999999999997" y2="254.703" stroke="#3aa64c" stroke-width="1"/>
<path d="M451.71999999999997,254.32500000000002 L455.71999999999997,254.32500000000002 L453.71999999999997,250.82500000000002 Z" fill="#3aa64c"/>
<line x1="481.6" y1="273.79600000000005" x2="481.6" y2="275.048" stroke="#3aa64c" stroke-width="1"/>
<line x1="479.6" y1="273.79600000000005" x2="483.6" y2="273.79600000000005" stroke="#3aa64c" stroke-width="1"/>
<line x1="479.6" y1="275.048" x2="483.6" y2="275.048" stroke="#3aa64c" stroke-width="1"/>
<path d="M479.6,275.922 L483.6,275.922 L481.6,272.422 Z" fill="#3aa64c"/>
<polyline points="358.60,213.70 373.36,211.82 393.04,231.23 419.28,242.50 453.72,255.02 481.60,273.61" fill="none" stroke="#1c4d6c" stroke-width="1.1"/>
<line x1="358.6" y1="212.448" x2="358.6" y2="214.95200000000003" stroke="#1c4d6c" stroke-width="1"/>
<line x1="356.6" y1="212.448" x2="360.6" y2="212.448" stroke="#1c4d6c" stroke-width="1"/>
<line x1="356.6" y1="214.95200000000003" x2="360.6" y2="214.95200000000003" stroke="#1c4d6c" stroke-width="1"/>
<circle cx="358.6" cy="213.70000000000002" r="2.1" fill="#1c4d6c"/>
<line x1="373.36" y1="206.814" x2="373.36" y2="216.83" stroke="#1c4d6c" stroke-width="1"/>
<line x1="371.36" y1="206.814" x2="375.36" y2="206.814" stroke="#1c4d6c" stroke-width="1"/>
<line x1="371.36" y1="216.83" x2="375.36" y2="216.83" stroke="#1c4d6c" stroke-width="1"/>
<circle cx="373.36" cy="211.822" r="2.1" fill="#1c4d6c"/>
<line x1="393.04" y1="226.846" x2="393.04" y2="235.61" stroke="#1c4d6c" stroke-width="1"/>
<line x1="391.04" y1="226.846" x2="395.04" y2="226.846" stroke="#1c4d6c" stroke-width="1"/>
<line x1="391.04" y1="235.61" x2="395.04" y2="235.61" stroke="#1c4d6c" stroke-width="1"/>
<circle cx="393.04" cy="231.228" r="2.1" fill="#1c4d6c"/>
<line x1="419.2800000000001" y1="237.80100000000002" x2="419.2800000000001" y2="247.191" stroke="#1c4d6c" stroke-width="1"/>
<line x1="417.2800000000001" y1="237.80100000000002" x2="421.2800000000001" y2="237.80100000000002" stroke="#1c4d6c" stroke-width="1"/>
<line x1="417.2800000000001" y1="247.191" x2="421.2800000000001" y2="247.191" stroke="#1c4d6c" stroke-width="1"/>
<circle cx="419.2800000000001" cy="242.496" r="2.1" fill="#1c4d6c"/>
<line x1="453.71999999999997" y1="250.63400000000001" x2="453.71999999999997" y2="259.398" stroke="#1c4d6c" stroke-width="1"/>
<line x1="451.71999999999997" y1="250.63400000000001" x2="455.71999999999997" y2="250.63400000000001" stroke="#1c4d6c" stroke-width="1"/>
<line x1="451.71999999999997" y1="259.398" x2="455.71999999999997" y2="259.398" stroke="#1c4d6c" stroke-width="1"/>
<circle cx="453.71999999999997" cy="255.01600000000002" r="2.1" fill="#1c4d6c"/>
<line x1="481.6" y1="272.98220000000003" x2="481.6" y2="274.2342" stroke="#1c4d6c" stroke-width="1"/>
<line x1="479.6" y1="272.98220000000003" x2="483.6" y2="272.98220000000003" stroke="#1c4d6c" stroke-width="1"/>
<line x1="479.6" y1="274.2342" x2="483.6" y2="274.2342" stroke="#1c4d6c" stroke-width="1"/>
<circle cx="481.6" cy="273.6082" r="2.1" fill="#1c4d6c"/>
<text x="393.04" y="195.4" font-size="7" text-anchor="middle" fill="#231f20" stroke="#231f20" stroke-width="0.18">*</text>
<text x="481.6" y="253.7" font-size="7" text-anchor="middle" fill="#231f20" stroke="#231f20" stroke-width="0.18">**</text>
<line x1="462.2" y1="195.5" x2="472.6" y2="195.5" stroke="#1c4d6c" stroke-width="1.1"/>
<circle cx="467.6" cy="195.5" r="1.7" fill="#1c4d6c"/>
<text x="475.7" y="198.0" font-size="7.1" text-anchor="start" fill="#231f20" stroke="#231f20" stroke-width="0.18">DMSO</text>
<line x1="462.2" y1="206.2" x2="472.6" y2="206.2" stroke="#c4213e" stroke-width="1.1"/>
<rect x="466" y="204.6" width="3.2" height="3.2" fill="#c4213e"/>
<text x="475.7" y="208.7" font-size="7.1" text-anchor="start" fill="#231f20" stroke="#231f20" stroke-width="0.18">PA4 5μM</text>
<line x1="462.2" y1="217" x2="472.6" y2="217" stroke="#3aa64c" stroke-width="1.1"/>
<path d="M466,218.3 L469.2,218.3 L467.6,215.4 Z" fill="#3aa64c"/>
<text x="475.7" y="219.5" font-size="7.1" text-anchor="start" fill="#231f20" stroke="#231f20" stroke-width="0.18">BBM 5μM</text>
<text x="7" y="300.2" font-size="10.5" text-anchor="start" font-weight="bold" fill="#000">D</text>
<text x="17.7" y="327.7" font-size="7" text-anchor="start" fill="#231f20" stroke="#231f20" stroke-width="0.18" textLength="26.4" lengthAdjust="spacingAndGlyphs">PA4 (μM)</text>
<text x="61.1" y="328" font-size="7" text-anchor="middle" fill="#231f20" stroke="#231f20" stroke-width="0.18">0</text>
<text x="79" y="328" font-size="7" text-anchor="middle" fill="#231f20" stroke="#231f20" stroke-width="0.18">5</text>
<text x="95" y="328" font-size="7" text-anchor="middle" fill="#231f20" stroke="#231f20" stroke-width="0.18">10</text>
<text x="112.3" y="328" font-size="7" text-anchor="middle" fill="#231f20" stroke="#231f20" stroke-width="0.18">15</text>
<text x="19.5" y="345.4" font-size="7.2" text-anchor="start" fill="#231f20" stroke="#231f20" stroke-width="0.18" textLength="25" lengthAdjust="spacingAndGlyphs">CAMKIIγ</text>
<text x="21.3" y="368" font-size="7.2" text-anchor="start" fill="#231f20" stroke="#231f20" stroke-width="0.18" textLength="22.5" lengthAdjust="spacingAndGlyphs">GAPDH</text>
<rect x="48.1" y="332.3" width="74.6" height="19.899999999999977" fill="url(#bg)" stroke="#2a2a2a" stroke-width="1.1"/>
<rect x="48.1" y="355.3" width="74.6" height="20.30000000000001" fill="url(#bg)" stroke="#2a2a2a" stroke-width="1.1"/>
<rect x="55.80" y="341.20" width="12.40" height="3.00" rx="1.50" fill="#0a0a0a" opacity="0.18" filter="url(#bl)"/>
<rect x="56.00" y="346.10" width="12.00" height="2.40" rx="1.20" fill="#0a0a0a" opacity="0.03" filter="url(#bl)"/>
<rect x="72.30" y="341.20" width="12.40" height="3.00" rx="1.50" fill="#0a0a0a" opacity="0.50" filter="url(#bl)"/>
<rect x="72.50" y="346.10" width="12.00" height="2.40" rx="1.20" fill="#0a0a0a" opacity="0.07" filter="url(#bl)"/>
<rect x="88.80" y="341.20" width="12.40" height="3.00" rx="1.50" fill="#0a0a0a" opacity="0.56" filter="url(#bl)"/>
<rect x="89.00" y="346.10" width="12.00" height="2.40" rx="1.20" fill="#0a0a0a" opacity="0.08" filter="url(#bl)"/>
<rect x="105.80" y="341.20" width="12.40" height="3.00" rx="1.50" fill="#0a0a0a" opacity="0.64" filter="url(#bl)"/>
<rect x="106.00" y="346.10" width="12.00" height="2.40" rx="1.20" fill="#0a0a0a" opacity="0.10" filter="url(#bl)"/>
<rect x="53.10" y="363.80" width="13.20" height="3.40" rx="1.70" fill="#0a0a0a" opacity="0.95" filter="url(#bl)"/>
<rect x="70.00" y="363.80" width="13.20" height="3.40" rx="1.70" fill="#0a0a0a" opacity="0.90" filter="url(#bl)"/>
<rect x="85.80" y="363.80" width="13.20" height="3.40" rx="1.70" fill="#0a0a0a" opacity="0.68" filter="url(#bl)"/>
<rect x="103.40" y="363.80" width="13.20" height="3.40" rx="1.70" fill="#0a0a0a" opacity="0.50" filter="url(#bl)"/>
<text x="153.2" y="299.6" font-size="10.5" text-anchor="start" font-weight="bold" fill="#000">E</text>
<line x1="181.5" y1="298" x2="181.5" y2="377.8" stroke="#231f20" stroke-width="1"/>
<line x1="181.5" y1="377.8" x2="293.3" y2="377.8" stroke="#231f20" stroke-width="1"/>
<line x1="178.6" y1="377.8" x2="181.5" y2="377.8" stroke="#231f20" stroke-width="0.9"/>
<text x="176" y="380.2" font-size="7" text-anchor="end" fill="#231f20" stroke="#231f20" stroke-width="0.18">0</text>
<line x1="178.6" y1="358.3" x2="181.5" y2="358.3" stroke="#231f20" stroke-width="0.9"/>
<text x="176" y="360.7" font-size="7" text-anchor="end" fill="#231f20" stroke="#231f20" stroke-width="0.18">2</text>
<line x1="178.6" y1="338.8" x2="181.5" y2="338.8" stroke="#231f20" stroke-width="0.9"/>
<text x="176" y="341.2" font-size="7" text-anchor="end" fill="#231f20" stroke="#231f20" stroke-width="0.18">4</text>
<line x1="178.6" y1="319.3" x2="181.5" y2="319.3" stroke="#231f20" stroke-width="0.9"/>
<text x="176" y="321.7" font-size="7" text-anchor="end" fill="#231f20" stroke="#231f20" stroke-width="0.18">6</text>
<line x1="178.6" y1="299.8" x2="181.5" y2="299.8" stroke="#231f20" stroke-width="0.9"/>
<text x="176" y="302.2" font-size="7" text-anchor="end" fill="#231f20" stroke="#231f20" stroke-width="0.18">8</text>
<text transform="translate(164.3,337.6) rotate(-90)" x="0" y="0" font-size="7.4" text-anchor="middle" fill="#231f20" stroke="#231f20" stroke-width="0.25" textLength="47" lengthAdjust="spacingAndGlyphs">Relative intensity</text>
<rect x="190.2" y="367.76" width="18.30000000000001" height="10.04" fill="#f39322"/>
<line x1="199.35" y1="367.7575" x2="199.35" y2="367.27" stroke="#f39322" stroke-width="1"/>
<line x1="195.04999999999998" y1="367.27" x2="203.65" y2="367.27" stroke="#f39322" stroke-width="1"/>
<line x1="199.35" y1="377.8" x2="199.35" y2="379.8" stroke="#231f20" stroke-width="0.9"/>
<text x="199.35" y="389.8" font-size="7" text-anchor="middle" fill="#231f20" stroke="#231f20" stroke-width="0.18">0</text>
<rect x="217" y="354.89" width="18" height="22.91" fill="#e5177e"/>
<line x1="226.0" y1="354.8875" x2="226.0" y2="353.62" stroke="#e5177e" stroke-width="1"/>
<line x1="221.7" y1="353.62" x2="230.3" y2="353.62" stroke="#e5177e" stroke-width="1"/>
<line x1="226.0" y1="377.8" x2="226.0" y2="379.8" stroke="#231f20" stroke-width="0.9"/>
<text x="226.0" y="389.8" font-size="7" text-anchor="middle" fill="#231f20" stroke="#231f20" stroke-width="0.18">5</text>
<text x="226.0" y="354.02" font-size="7" text-anchor="middle" fill="#231f20" stroke="#231f20" stroke-width="0.18">**</text>
<rect x="244.1" y="342.21" width="17.799999999999983" height="35.59" fill="#3cb04a"/>
<line x1="253.0" y1="342.21250000000003" x2="253.0" y2="340.4575" stroke="#3cb04a" stroke-width="1"/>
<line x1="248.7" y1="340.4575" x2="257.3" y2="340.4575" stroke="#3cb04a" stroke-width="1"/>
<line x1="253.0" y1="377.8" x2="253.0" y2="379.8" stroke="#231f20" stroke-width="0.9"/>
<text x="253.0" y="389.8" font-size="7" text-anchor="middle" fill="#231f20" stroke="#231f20" stroke-width="0.18">10</text>
<text x="253.0" y="340.85749999999996" font-size="7" text-anchor="middle" fill="#231f20" stroke="#231f20" stroke-width="0.18">**</text>
<rect x="270.9" y="324.66" width="18.400000000000034" height="53.14" fill="#1a4a80"/>
<line x1="280.1" y1="324.6625" x2="280.1" y2="320.47" stroke="#1a4a80" stroke-width="1"/>
<line x1="275.8" y1="320.47" x2="284.40000000000003" y2="320.47" stroke="#1a4a80" stroke-width="1"/>
<line x1="280.1" y1="377.8" x2="280.1" y2="379.8" stroke="#231f20" stroke-width="0.9"/>
<text x="280.1" y="389.8" font-size="7" text-anchor="middle" fill="#231f20" stroke="#231f20" stroke-width="0.18">15</text>
<text x="280.1" y="320.87" font-size="7" text-anchor="middle" fill="#231f20" stroke="#231f20" stroke-width="0.18">**</text>
<text x="225.6" y="402" font-size="8.1" text-anchor="start" fill="#231f20" textLength="28.2" lengthAdjust="spacingAndGlyphs" stroke="#231f20" stroke-width="0.25">PA4 (μM)</text>
<text x="6.8" y="421.2" font-size="10.5" text-anchor="start" font-weight="bold" fill="#000">F</text>
<line x1="49.8" y1="423.3" x2="49.8" y2="571.4" stroke="#231f20" stroke-width="1.1"/>
<line x1="49.8" y1="496.8" x2="269.7" y2="496.8" stroke="#231f20" stroke-width="1"/>
<line x1="49.8" y1="571.4" x2="269.7" y2="571.4" stroke="#231f20" stroke-width="1.1"/>
<line x1="47" y1="496.8" x2="49.8" y2="496.8" stroke="#231f20" stroke-width="0.9"/>
<text x="44.1" y="499.3" font-size="7.1" text-anchor="end" fill="#231f20" stroke="#231f20" stroke-width="0.18">0.60</text>
<line x1="47" y1="484.88" x2="49.8" y2="484.88" stroke="#231f20" stroke-width="0.9"/>
<text x="44.1" y="487.38" font-size="7.1" text-anchor="end" fill="#231f20" stroke="#231f20" stroke-width="0.18">0.65</text>
<line x1="47" y1="472.96000000000004" x2="49.8" y2="472.96000000000004" stroke="#231f20" stroke-width="0.9"/>
<text x="44.1" y="475.46000000000004" font-size="7.1" text-anchor="end" fill="#231f20" stroke="#231f20" stroke-width="0.18">0.70</text>
<line x1="47" y1="461.04" x2="49.8" y2="461.04" stroke="#231f20" stroke-width="0.9"/>
<text x="44.1" y="463.54" font-size="7.1" text-anchor="end" fill="#231f20" stroke="#231f20" stroke-width="0.18">0.75</text>
<line x1="47" y1="449.12" x2="49.8" y2="449.12" stroke="#231f20" stroke-width="0.9"/>
<text x="44.1" y="451.62" font-size="7.1" text-anchor="end" fill="#231f20" stroke="#231f20" stroke-width="0.18">0.80</text>
<line x1="47" y1="437.2" x2="49.8" y2="437.2" stroke="#231f20" stroke-width="0.9"/>
<text x="44.1" y="439.7" font-size="7.1" text-anchor="end" fill="#231f20" stroke="#231f20" stroke-width="0.18">0.85</text>
<line x1="47" y1="425.28" x2="49.8" y2="425.28" stroke="#231f20" stroke-width="0.9"/>
<text x="44.1" y="427.78" font-size="7.1" text-anchor="end" fill="#231f20" stroke="#231f20" stroke-width="0.18">0.90</text>
<line x1="49.8" y1="496.8" x2="49.8" y2="498.8" stroke="#231f20" stroke-width="0.8"/>
<line x1="49.8" y1="571.4" x2="49.8" y2="573.6" stroke="#231f20" stroke-width="0.9"/>
<text x="49.8" y="583.8" font-size="6.8" text-anchor="middle" fill="#231f20" stroke="#231f20" stroke-width="0.18">20</text>
<line x1="77.0" y1="496.8" x2="77.0" y2="498.8" stroke="#231f20" stroke-width="0.8"/>
<line x1="77.0" y1="571.4" x2="77.0" y2="573.6" stroke="#231f20" stroke-width="0.9"/>
<text x="77.0" y="583.8" font-size="6.8" text-anchor="middle" fill="#231f20" stroke="#231f20" stroke-width="0.18">30</text>
<line x1="104.2" y1="496.8" x2="104.2" y2="498.8" stroke="#231f20" stroke-width="0.8"/>
<line x1="104.2" y1="571.4" x2="104.2" y2="573.6" stroke="#231f20" stroke-width="0.9"/>
<text x="104.2" y="583.8" font-size="6.8" text-anchor="middle" fill="#231f20" stroke="#231f20" stroke-width="0.18">40</text>
<line x1="131.4" y1="496.8" x2="131.4" y2="498.8" stroke="#231f20" stroke-width="0.8"/>
<line x1="131.4" y1="571.4" x2="131.4" y2="573.6" stroke="#231f20" stroke-width="0.9"/>
<text x="131.4" y="583.8" font-size="6.8" text-anchor="middle" fill="#231f20" stroke="#231f20" stroke-width="0.18">50</text>
<line x1="158.60000000000002" y1="496.8" x2="158.60000000000002" y2="498.8" stroke="#231f20" stroke-width="0.8"/>
<line x1="158.60000000000002" y1="571.4" x2="158.60000000000002" y2="573.6" stroke="#231f20" stroke-width="0.9"/>
<text x="158.60000000000002" y="583.8" font-size="6.8" text-anchor="middle" fill="#231f20" stroke="#231f20" stroke-width="0.18">60</text>
<line x1="185.8" y1="496.8" x2="185.8" y2="498.8" stroke="#231f20" stroke-width="0.8"/>
<line x1="185.8" y1="571.4" x2="185.8" y2="573.6" stroke="#231f20" stroke-width="0.9"/>
<text x="185.8" y="583.8" font-size="6.8" text-anchor="middle" fill="#231f20" stroke="#231f20" stroke-width="0.18">70</text>
<line x1="213.0" y1="496.8" x2="213.0" y2="498.8" stroke="#231f20" stroke-width="0.8"/>
<line x1="213.0" y1="571.4" x2="213.0" y2="573.6" stroke="#231f20" stroke-width="0.9"/>
<text x="213.0" y="583.8" font-size="6.8" text-anchor="middle" fill="#231f20" stroke="#231f20" stroke-width="0.18">80</text>
<line x1="240.2" y1="496.8" x2="240.2" y2="498.8" stroke="#231f20" stroke-width="0.8"/>
<line x1="240.2" y1="571.4" x2="240.2" y2="573.6" stroke="#231f20" stroke-width="0.9"/>
<text x="240.2" y="583.8" font-size="6.8" text-anchor="middle" fill="#231f20" stroke="#231f20" stroke-width="0.18">90</text>
<line x1="267.40000000000003" y1="496.8" x2="267.40000000000003" y2="498.8" stroke="#231f20" stroke-width="0.8"/>
<line x1="267.40000000000003" y1="571.4" x2="267.40000000000003" y2="573.6" stroke="#231f20" stroke-width="0.9"/>
<text x="267.40000000000003" y="583.8" font-size="6.8" text-anchor="middle" fill="#231f20" stroke="#231f20" stroke-width="0.18">100</text>
<text x="136.2" y="596.2" font-size="8.2" text-anchor="start" fill="#231f20" textLength="46.8" lengthAdjust="spacingAndGlyphs" stroke="#231f20" stroke-width="0.25">Temperature (°C)</text>
<text transform="translate(23.6,461.5) rotate(-90)" x="0" y="0" font-size="7.9" text-anchor="middle" fill="#231f20" stroke="#231f20" stroke-width="0.25" textLength="49" lengthAdjust="spacingAndGlyphs">350/330 nm ratio</text>
<text transform="translate(24.1,534.3) rotate(-90)" x="0" y="0" font-size="8.3" text-anchor="middle" fill="#231f20" stroke="#231f20" stroke-width="0.25" textLength="40.5" lengthAdjust="spacingAndGlyphs">First derivative</text>
<path d="M50.30,488.60 C54.95,488.05 69.13,486.53 78.20,485.30 C87.27,484.07 98.07,482.68 104.70,481.20 C111.33,479.72 113.95,478.60 118.00,476.40 C122.05,474.20 125.68,471.23 129.00,468.00 C132.32,464.77 134.95,460.27 137.90,457.00 C140.85,453.73 144.12,450.37 146.70,448.40 C149.28,446.43 150.35,445.85 153.40,445.20 C156.45,444.55 157.23,445.30 165.00,444.50 C172.77,443.70 185.42,441.73 200.00,440.40 C214.58,439.07 243.75,437.15 252.50,436.50" fill="none" stroke="#cc1f3a" stroke-width="1.1"/>
<path d="M50.30,484.70 C54.95,483.95 69.13,481.68 78.20,480.20 C87.27,478.72 98.07,477.27 104.70,475.80 C111.33,474.33 113.95,473.23 118.00,471.40 C122.05,469.57 125.68,467.63 129.00,464.80 C132.32,461.97 134.95,457.72 137.90,454.40 C140.85,451.08 144.12,447.05 146.70,444.90 C149.28,442.75 151.18,441.77 153.40,441.50 C155.62,441.23 157.23,443.08 160.00,443.30 C162.77,443.52 163.33,443.48 170.00,442.80 C176.67,442.12 186.25,440.95 200.00,439.20 C213.75,437.45 243.75,433.45 252.50,432.30" fill="none" stroke="#3aa84a" stroke-width="1.1"/>
<path d="M50.30,476.90 C54.95,476.23 69.13,474.45 78.20,472.90 C87.27,471.35 98.07,469.38 104.70,467.60 C111.33,465.82 113.95,464.50 118.00,462.20 C122.05,459.90 125.68,456.80 129.00,453.80 C132.32,450.80 134.95,447.13 137.90,444.20 C140.85,441.27 144.12,437.83 146.70,436.20 C149.28,434.57 149.52,434.85 153.40,434.40 C157.28,433.95 162.23,434.03 170.00,433.50 C177.77,432.97 191.33,432.12 200.00,431.20 C208.67,430.28 214.50,429.03 222.00,428.00 C229.50,426.97 241.17,425.50 245.00,425.00" fill="none" stroke="#1f4a82" stroke-width="1.1"/>
<path d="M50.30,549.00 C51.25,549.30 53.88,550.17 56.00,550.80 C58.12,551.43 59.83,552.53 63.00,552.80 C66.17,553.07 70.50,552.37 75.00,552.40 C79.50,552.43 85.00,553.40 90.00,553.00 C95.00,552.60 100.58,551.13 105.00,550.00 C109.42,548.87 113.03,548.57 116.50,546.20 C119.97,543.83 123.05,540.00 125.80,535.80 C128.55,531.60 130.70,524.97 133.00,521.00 C135.30,517.03 137.77,513.00 139.60,512.00 C141.43,511.00 142.60,512.00 144.00,515.00 C145.40,518.00 146.50,523.67 148.00,530.00 C149.50,536.33 151.25,547.55 153.00,553.00 C154.75,558.45 156.83,561.87 158.50,562.70 C160.17,563.53 161.08,559.53 163.00,558.00 C164.92,556.47 166.33,554.40 170.00,553.50 C173.67,552.60 180.00,552.68 185.00,552.60 C190.00,552.52 195.00,553.18 200.00,553.00 C205.00,552.82 210.83,551.42 215.00,551.50 C219.17,551.58 221.67,553.50 225.00,553.50 C228.33,553.50 231.67,551.55 235.00,551.50 C238.33,551.45 242.00,553.20 245.00,553.20 C248.00,553.20 251.67,551.78 253.00,551.50" fill="none" stroke="#3aa84a" stroke-width="1.1"/>
<path d="M50.30,550.50 C51.58,550.83 54.72,552.12 58.00,552.50 C61.28,552.88 64.67,552.78 70.00,552.80 C75.33,552.82 84.17,553.20 90.00,552.60 C95.83,552.00 100.58,550.85 105.00,549.20 C109.42,547.55 113.03,545.20 116.50,542.70 C119.97,540.20 123.22,537.32 125.80,534.20 C128.38,531.08 130.00,526.93 132.00,524.00 C134.00,521.07 136.13,517.43 137.80,516.60 C139.47,515.77 140.47,516.10 142.00,519.00 C143.53,521.90 145.33,528.92 147.00,534.00 C148.67,539.08 150.17,545.92 152.00,549.50 C153.83,553.08 155.83,554.75 158.00,555.50 C160.17,556.25 161.33,554.48 165.00,554.00 C168.67,553.52 174.17,552.88 180.00,552.60 C185.83,552.32 194.17,552.15 200.00,552.30 C205.83,552.45 210.00,553.45 215.00,553.50 C220.00,553.55 226.17,552.58 230.00,552.60 C233.83,552.62 235.57,552.97 238.00,553.60 C240.43,554.23 242.60,556.33 244.60,556.40 C246.60,556.47 248.60,554.65 250.00,554.00 C251.40,553.35 252.50,552.75 253.00,552.50" fill="none" stroke="#cc1f3a" stroke-width="1.1"/>
<path d="M50.30,549.40 C51.58,549.80 54.72,551.27 58.00,551.80 C61.28,552.33 64.67,552.50 70.00,552.60 C75.33,552.70 84.17,553.08 90.00,552.40 C95.83,551.72 100.58,550.40 105.00,548.50 C109.42,546.60 113.03,543.70 116.50,541.00 C119.97,538.30 123.38,534.97 125.80,532.30 C128.22,529.63 129.38,527.00 131.00,525.00 C132.62,523.00 134.00,520.63 135.50,520.30 C137.00,519.97 138.25,520.05 140.00,523.00 C141.75,525.95 144.17,533.42 146.00,538.00 C147.83,542.58 149.17,547.63 151.00,550.50 C152.83,553.37 154.67,554.65 157.00,555.20 C159.33,555.75 161.17,554.23 165.00,553.80 C168.83,553.37 174.17,552.77 180.00,552.60 C185.83,552.43 193.33,552.70 200.00,552.80 C206.67,552.90 213.33,553.12 220.00,553.20 C226.67,553.28 234.50,553.47 240.00,553.30 C245.50,553.13 250.83,552.38 253.00,552.20" fill="none" stroke="#1f4a82" stroke-width="1.1"/>
<line x1="288" y1="476.3" x2="492.2" y2="476.3" stroke="#3a3a3a" stroke-width="1.2"/>
<line x1="288" y1="495.5" x2="492.2" y2="495.5" stroke="#3a3a3a" stroke-width="1.2"/>
<line x1="288" y1="543.8" x2="492.2" y2="543.8" stroke="#3a3a3a" stroke-width="1.2"/>
<text x="358" y="488.6" font-size="7.3" text-anchor="middle" fill="#231f20" stroke="#231f20" stroke-width="0.18">Tm (°C)</text>
<text x="412.2" y="488.6" font-size="7.3" text-anchor="middle" fill="#231f20" stroke="#231f20" stroke-width="0.18">dTm (°C)</text>
<text x="469.1" y="488.6" font-size="7.5" text-anchor="middle" fill="#231f20" stroke="#231f20" stroke-width="0.18">Significance</text>
<rect x="291.6" y="503.5" width="5" height="4.7" fill="#1f4e79"/>
<text x="301.2" y="508.4" font-size="7.7" text-anchor="start" fill="#231f20" stroke="#231f20" stroke-width="0.18">DMSO</text>
<text x="358.2" y="508.4" font-size="7.6" text-anchor="middle" fill="#231f20" stroke="#231f20" stroke-width="0.18">51.73±0.26</text>
<rect x="291.6" y="517.3000000000001" width="5" height="4.7" fill="#3aa845"/>
<text x="301.2" y="522.2" font-size="7.7" text-anchor="start" fill="#231f20" stroke="#231f20" stroke-width="0.18">BBM</text>
<text x="358.2" y="522.2" font-size="7.6" text-anchor="middle" fill="#231f20" stroke="#231f20" stroke-width="0.18">52.5±0.25</text>
<text x="412.5" y="522.2" font-size="7.6" text-anchor="middle" fill="#231f20" stroke="#231f20" stroke-width="0.18">0.78±0.36</text>
<text x="469.1" y="522.2" font-size="7.6" text-anchor="middle" fill="#231f20" stroke="#231f20" stroke-width="0.18">No</text>
<rect x="291.6" y="531.4" width="5" height="4.7" fill="#c8102e"/>
<text x="301.2" y="536.3" font-size="7.7" text-anchor="start" fill="#231f20" stroke="#231f20" stroke-width="0.18">PA4</text>
<text x="358.2" y="536.3" font-size="7.6" text-anchor="middle" fill="#231f20" stroke="#231f20" stroke-width="0.18">53.11±0.12</text>
<text x="412.5" y="536.3" font-size="7.6" text-anchor="middle" fill="#231f20" stroke="#231f20" stroke-width="0.18">1.38±0.28</text>
<text x="469.1" y="536.3" font-size="7.6" text-anchor="middle" fill="#231f20" stroke="#231f20" stroke-width="0.18">Yes</text>
</svg>
<div class="frame"></div>
</body></html>
